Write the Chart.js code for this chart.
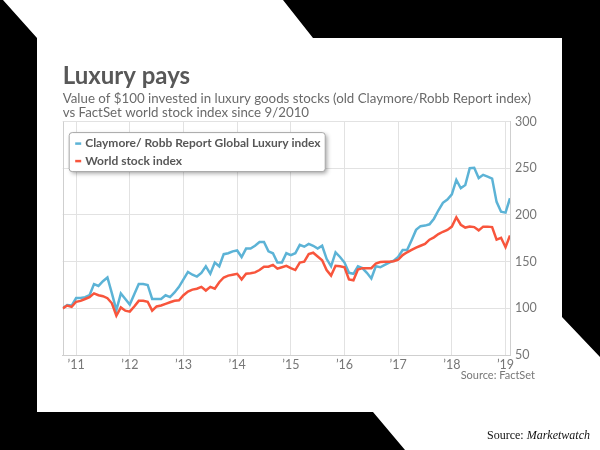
<!DOCTYPE html>
<html><head><meta charset="utf-8">
<script src="https://cdn.jsdelivr.net/npm/chart.js@4.4.0/dist/chart.umd.min.js"></script>
<style>
html,body{margin:0;padding:0;background:#000;}
#wrap{position:relative;width:600px;height:450px;overflow:hidden;}
canvas{position:absolute;left:0;top:0;}
.src{position:absolute;white-space:nowrap;line-height:1;}
#s1{right:65px;top:369px;font-family:Lato,sans-serif;font-size:11px;color:#777;}
#s2{left:487px;top:429px;font-family:"Liberation Serif",serif;font-size:12px;color:#111;}
</style></head><body>
<div id="wrap"><canvas id="c" width="600" height="450"></canvas>
<div class="src" id="s1">Source: FactSet</div>
<div class="src" id="s2">Source: <i>Marketwatch</i></div>
</div>
<script>
// Month-end dates (Sep 2010 .. Jan 2019)
const months = [
 '2010-09','2010-10','2010-11','2010-12',
 '2011-01','2011-02','2011-03','2011-04','2011-05','2011-06','2011-07','2011-08','2011-09','2011-10','2011-11','2011-12',
 '2012-01','2012-02','2012-03','2012-04','2012-05','2012-06','2012-07','2012-08','2012-09','2012-10','2012-11','2012-12',
 '2013-01','2013-02','2013-03','2013-04','2013-05','2013-06','2013-07','2013-08','2013-09','2013-10','2013-11','2013-12',
 '2014-01','2014-02','2014-03','2014-04','2014-05','2014-06','2014-07','2014-08','2014-09','2014-10','2014-11','2014-12',
 '2015-01','2015-02','2015-03','2015-04','2015-05','2015-06','2015-07','2015-08','2015-09','2015-10','2015-11','2015-12',
 '2016-01','2016-02','2016-03','2016-04','2016-05','2016-06','2016-07','2016-08','2016-09','2016-10','2016-11','2016-12',
 '2017-01','2017-02','2017-03','2017-04','2017-05','2017-06','2017-07','2017-08','2017-09','2017-10','2017-11','2017-12',
 '2018-01','2018-02','2018-03','2018-04','2018-05','2018-06','2018-07','2018-08','2018-09','2018-10','2018-11','2018-12',
 '2019-01'
];
const luxury = [
 100,103.5,103,111,
 111,112,114,126,124,129,133,116,98,116,110,104,
 115,126,126,125,110,110,110,114,112,117,123,131,
 139,136,134,138,145,137,149,145,158,159,161,162,
 155,164,164,167,171,171,161,159,149,149,159,157,
 159,168,166,169,167,164,167,153,145,160,155,149,
 138,137,145,143,138,132,145,144,146.5,149,151,155,
 162.5,162.5,173,184,188,188.6,190,196,205,213,216.5,222,
 237.5,228.6,232,250,250.5,239.5,243,241,239,214,203.5,202.5,
 218
];
const world = [
 100,103,101.5,107,
 108,110,112,116,114,113,110.8,105.4,92,101,97.5,96.4,
 102,108,108,107,97.5,102,103,104.7,106.5,108,108.6,114,
 118,120,121,123,119,123,121,128,133,135,136,137,
 131,137,137.5,138.5,141,144.5,144.5,146.5,142.5,144,145.5,143,
 141,149,150,158,159.5,155.5,151.5,141,135,145.5,145,144,
 131,130,141.5,143,143,143,148,149.5,150,150,150.5,152,
 157,160,162.5,165,167,169,173.5,176,179.5,182,184,187.5,
 197.5,189.5,186.5,187.5,187,183.5,187.5,187.5,187,173.5,175.5,165.5,
 178
];
const tickYears = [2011,2012,2013,2014,2015,2016,2017,2018,2019];
const tickLabels = ['\u201911','\u201912','\u201913','\u201914','\u201915','\u201916','\u201917','\u201918','\u201919'];
const seriesNames = ['Claymore/ Robb Report Global Luxury index','World stock index'];
const titleText = 'Luxury pays';
const subtitleLines = ['Value of $100 invested in luxury goods stocks (old Claymore/Robb Report index)','vs FactSet world stock index since 9/2010'];

// month index relative to January 2011 (month-end values)
function mIdx(s){const p=s.split('-');return (parseInt(p[0])-2011)*12+parseInt(p[1]);}
const toPts = arr => arr.map((v,i)=>({x:mIdx(months[i]),y:v}));

const BLUE='#5cb3d6', RED='#f8553c';
const bgPlugin={id:'bg',beforeDraw(chart){
  const ctx=chart.ctx;ctx.save();
  ctx.fillStyle='#000';ctx.fillRect(0,0,chart.width,chart.height);
  ctx.fillStyle='#fff';ctx.beginPath();
  const poly=[[3,0],[283,0],[313,38],[562,38],[562,317],[600,357],[600,450],[405,450],[373,412],[37,412],[37,38]];
  poly.forEach((p,i)=>i?ctx.lineTo(p[0],p[1]):ctx.moveTo(p[0],p[1]));
  ctx.closePath();ctx.fill();ctx.restore();
}};
const framePlugin={id:'frame',beforeDatasetsDraw(chart){
  const a=chart.chartArea,ctx=chart.ctx;ctx.save();
  ctx.strokeStyle='#cfcfcf';ctx.lineWidth=1;
  ctx.beginPath();ctx.moveTo(Math.round(a.left)+0.5,a.top);ctx.lineTo(Math.round(a.left)+0.5,a.bottom);ctx.stroke();
  ctx.restore();
}};
const legendPlugin={id:'boxlegend',afterDatasetsDraw(chart){
  const a=chart.chartArea,ctx=chart.ctx;
  const x=a.left+6.5,y=a.top+11,w=256,h=39,r=3;
  ctx.save();
  ctx.shadowColor='rgba(0,0,0,0.35)';ctx.shadowBlur=4;ctx.shadowOffsetX=2;ctx.shadowOffsetY=2;
  ctx.fillStyle='#fff';ctx.beginPath();ctx.roundRect(x,y,w,h,r);ctx.fill();
  ctx.shadowColor='transparent';
  ctx.strokeStyle='#a8a8a8';ctx.lineWidth=1;ctx.stroke();
  ctx.font='bold 12px Lato';ctx.textBaseline='middle';ctx.fillStyle='#575757';
  chart.data.datasets.forEach((ds,i)=>{
    const cy=y+11+i*17.5;
    ctx.strokeStyle=ds.borderColor;ctx.lineWidth=2.5;
    ctx.beginPath();ctx.moveTo(x+6,cy);ctx.lineTo(x+12,cy);ctx.stroke();
    ctx.fillText(ds.label,x+16,cy);
  });
  ctx.restore();
}};

new Chart(document.getElementById('c'),{
  type:'line',
  data:{datasets:[
    {label:seriesNames[0],data:toPts(luxury),borderColor:BLUE,backgroundColor:BLUE,borderWidth:2.5,pointRadius:0,tension:0,order:1},
    {label:seriesNames[1],data:toPts(world),borderColor:RED,backgroundColor:RED,borderWidth:2.5,pointRadius:0,tension:0,order:0}
  ]},
  options:{
    responsive:false,animation:false,devicePixelRatio:1,
    layout:{padding:{left:62.7,right:40,top:62,bottom:75}},
    plugins:{
      legend:{display:false},tooltip:{enabled:false},
      title:{display:true,text:titleText,align:'start',color:'#585858',font:{family:'Lato',weight:'bold',size:24,lineHeight:1.2},padding:{top:0,bottom:0}},
      subtitle:{display:true,text:subtitleLines,align:'start',color:'#6a6a6a',font:{family:'Lato',size:13.3,lineHeight:1.12},padding:{top:0,bottom:1}}
    },
    scales:{
      x:{type:'linear',min:mIdx(months[0]),max:mIdx(months[months.length-1]),
        afterBuildTicks:s=>{s.ticks=tickYears.map(y=>({value:(y-2011)*12}));},
        afterFit:s=>{s.height=20;},
        ticks:{callback:(v)=>tickLabels[tickYears.indexOf(2011+v/12)],color:'#777',font:{family:'Lato',size:12.5},padding:2,maxRotation:0,autoSkip:false},
        grid:{color:'#e2e2e2',drawTicks:false},border:{color:'#cfcfcf'}},
      y:{position:'right',min:50,max:300,
        afterFit:s=>{s.width=50;},
        ticks:{stepSize:50,color:'#777',font:{family:'Lato',size:12.5},padding:5},
        grid:{color:'#e2e2e2',drawTicks:false},border:{color:'#cfcfcf'}}
    }
  },
  plugins:[bgPlugin,framePlugin,legendPlugin]
});
</script>
</body></html>
